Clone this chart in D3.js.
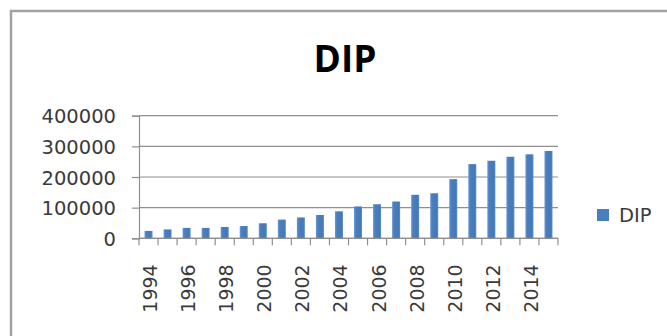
<!DOCTYPE html>
<html>
<head>
<meta charset="utf-8">
<script src="https://cdn.jsdelivr.net/npm/d3@7"></script>
<style>
  html, body { margin: 0; padding: 0; background: #fff; }
  svg { display: block; }
</style>
</head>
<body>
<svg id="chart" width="667" height="336"></svg>
<script>
// DIP by year
const years = ["1994","1995","1996","1997","1998","1999","2000","2001","2002","2003","2004",
               "2005","2006","2007","2008","2009","2010","2011","2012","2013","2014","2015"];
const dipValues = [24000, 29000, 34000, 34000, 37000, 40000, 49000, 61000, 68000, 76000, 88000,
                   104000, 111000, 120000, 142000, 147000, 193000, 242000, 253000, 266000, 274000, 285000];
const yTicks = [0, 100000, 200000, 300000, 400000];
const xTickLabels = ["1994","1996","1998","2000","2002","2004","2006","2008","2010","2012","2014"];
const seriesName = "DIP";
const chartTitle = "DIP";

const svg = d3.select("#chart");
const font = "'DejaVu Sans', sans-serif";

// Chart area frame
svg.append("rect")
  .attr("x", 11).attr("y", 11)
  .attr("width", 700).attr("height", 400)
  .attr("fill", "none")
  .attr("stroke", "#a3a3a3")
  .attr("stroke-width", 2.5);

// Bar fill gradient
const defs = svg.append("defs");
const grad = defs.append("linearGradient").attr("id", "barGrad")
  .attr("x1", "0").attr("x2", "1").attr("y1", "0").attr("y2", "0");
grad.append("stop").attr("offset", "0%").attr("stop-color", "#6b98d0");
grad.append("stop").attr("offset", "25%").attr("stop-color", "#4a7ebd");
grad.append("stop").attr("offset", "80%").attr("stop-color", "#4479b9");
grad.append("stop").attr("offset", "100%").attr("stop-color", "#5f8fcb");

const plot = { left: 139, right: 558, top: 115.7, bottom: 238.3 };

const x = d3.scaleBand()
  .domain(years)
  .range([plot.left, plot.right])
  .paddingInner(0.58)
  .paddingOuter(0.29);

const y = d3.scaleLinear()
  .domain([0, 400000])
  .range([plot.bottom, plot.top]);

// Horizontal gridlines
svg.append("g")
  .selectAll("line")
  .data(yTicks)
  .join("line")
  .attr("x1", plot.left).attr("x2", plot.right)
  .attr("y1", d => y(d)).attr("y2", d => y(d))
  .attr("stroke", "#8f8f8f")
  .attr("stroke-width", 1.2);

// Y axis
const yAxis = svg.append("g")
  .attr("transform", `translate(${plot.left},0)`)
  .call(d3.axisLeft(y).tickValues(yTicks).tickSize(7).tickPadding(16).tickFormat(d3.format("d")));
yAxis.select(".domain").attr("stroke", "#8f8f8f").attr("stroke-width", 1.2);
yAxis.selectAll(".tick line").attr("stroke", "#8f8f8f").attr("stroke-width", 1.2);
yAxis.selectAll(".tick text")
  .attr("font-family", font)
  .attr("font-size", 19.5)
  .attr("fill", "#3a3a3a")
  .attr("dy", "0.36em");

// Bars
svg.append("g")
  .selectAll("rect")
  .data(years.map((yr, i) => ({ year: yr, value: dipValues[i] })))
  .join("rect")
  .attr("x", d => x(d.year))
  .attr("width", x.bandwidth())
  .attr("y", d => y(d.value))
  .attr("height", d => y(0) - y(d.value))
  .attr("fill", "url(#barGrad)");

// X axis: tick marks between categories
const step = x.step();
const boundaries = d3.range(years.length + 1).map(i => plot.left + i * (plot.right - plot.left) / years.length);
const xAxis = svg.append("g");
xAxis.append("line")
  .attr("x1", plot.left).attr("x2", plot.right)
  .attr("y1", plot.bottom).attr("y2", plot.bottom)
  .attr("stroke", "#8f8f8f").attr("stroke-width", 1.2);
xAxis.selectAll("line.tk")
  .data(boundaries)
  .join("line")
  .attr("class", "tk")
  .attr("x1", d => d).attr("x2", d => d)
  .attr("y1", plot.bottom).attr("y2", plot.bottom + 7)
  .attr("stroke", "#8f8f8f").attr("stroke-width", 1.2);

// X labels, rotated, every other year
xAxis.selectAll("text")
  .data(xTickLabels)
  .join("text")
  .attr("transform", d => `translate(${x(d) + x.bandwidth() / 2 + 1.5},${plot.bottom + 26}) rotate(-90)`)
  .attr("text-anchor", "end")
  .attr("dominant-baseline", "central")
  .attr("font-family", font)
  .attr("font-size", 19)
  .attr("fill", "#3a3a3a")
  .text(d => d);

// Title
svg.append("text")
  .attr("x", 345).attr("y", 72)
  .attr("text-anchor", "middle")
  .attr("font-family", "'Open Sans', sans-serif")
  .attr("font-weight", "bold")
  .attr("font-size", 37)
  .attr("fill", "#000")
  .text(chartTitle);

// Legend
const legend = svg.append("g").attr("transform", "translate(597,209)");
legend.append("rect")
  .attr("width", 12).attr("height", 12)
  .attr("fill", "#4a7ebd");
legend.append("text")
  .attr("x", 22).attr("y", 6)
  .attr("dy", "0.36em")
  .attr("font-family", font)
  .attr("font-size", 19.5)
  .attr("fill", "#3a3a3a")
  .text(seriesName);
</script>
</body>
</html>
